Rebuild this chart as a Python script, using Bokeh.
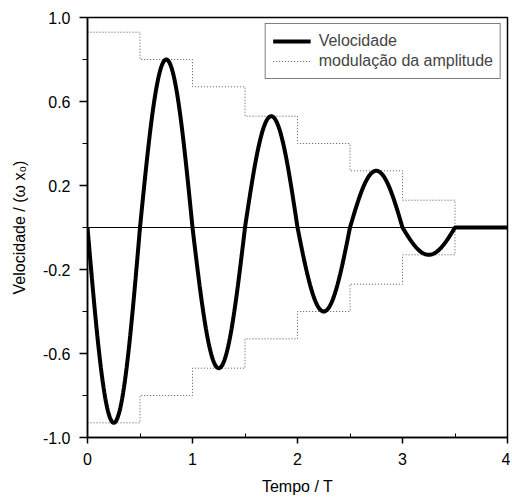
import numpy as np
from bokeh.plotting import figure
from bokeh.models import FixedTicker, PrintfTickFormatter, Legend, LegendItem, Range1d, Span
from bokeh.embed import file_html
from bokeh.resources import INLINE

# Data
half_period_edges = [0.0, 0.5, 1.0, 1.5, 2.0, 2.5, 3.0, 3.5]
amplitudes = [0.93, 0.80, 0.67, 0.53, 0.40, 0.27, 0.13]
t_end = 4.0
x_ticks = [0, 1, 2, 3, 4]
x_minor = [0.5, 1.5, 2.5, 3.5]
y_ticks = [-1.0, -0.6, -0.2, 0.2, 0.6, 1.0]
y_minor = [-0.8, -0.4, 0.0, 0.4, 0.8]

# velocity curve: sinusoidal arcs with amplitude stepping each half period
tv, vv = [], []
for i, a in enumerate(amplitudes):
    t = np.linspace(half_period_edges[i], half_period_edges[i + 1], 60)
    tv.extend(t.tolist())
    vv.extend((-a * np.sin(2 * np.pi * t)).tolist())
tv.extend([half_period_edges[-1], t_end])
vv.extend([0.0, 0.0])

# amplitude envelope steps
sx, sy = [], []
for i, a in enumerate(amplitudes):
    sx += [half_period_edges[i], half_period_edges[i + 1]]
    sy += [a, a]
sx.append(half_period_edges[-1])
sy.append(0.0)
sy_low = [-v for v in sy]

FONT = "Liberation Sans"

p = figure(frame_width=420, frame_height=420, output_backend="svg", toolbar_location=None,
           x_range=Range1d(0, 4), y_range=Range1d(-1.0, 1.0),
           min_border_left=87, min_border_top=17, min_border_right=3, min_border_bottom=40)
p.grid.visible = False
p.outline_line_color = "black"
p.outline_line_width = 1.5
p.background_fill_color = "white"
p.border_fill_color = "white"

zero = Span(location=0, dimension="width", line_color="black", line_width=1)
p.add_layout(zero)

r_up = p.line(sx, sy, line_color="#555555", line_width=1, line_dash="1 2")
r_lo = p.line(sx, sy_low, line_color="#555555", line_width=1, line_dash="1 2")
r_v = p.line(tv, vv, line_color="black", line_width=4)

for ax, ticks, minor in ((p.xaxis[0], x_ticks, x_minor), (p.yaxis[0], y_ticks, y_minor)):
    ax.ticker = FixedTicker(ticks=ticks, minor_ticks=minor)
    ax.axis_line_color = "black"
    ax.axis_line_width = 1.5
    ax.major_tick_line_color = "black"
    ax.minor_tick_line_color = "black"
    ax.major_tick_line_width = 1.5
    ax.major_tick_in = 0
    ax.major_label_text_font = FONT
    ax.major_label_text_font_size = "16px"
    ax.major_label_text_color = "black"
    ax.axis_label_text_font = FONT
    ax.axis_label_text_font_size = "16px"
    ax.axis_label_text_font_style = "normal"
    ax.axis_label_text_color = "black"

xa, ya = p.xaxis[0], p.yaxis[0]
xa.major_tick_out = 6
xa.minor_tick_out = 0
xa.minor_tick_in = 4
ya.major_tick_out = 8
ya.minor_tick_out = 5
ya.minor_tick_in = 0

ya.formatter = PrintfTickFormatter(format="%.1f")
xa.formatter = PrintfTickFormatter(format="%d")
xa.axis_label = "Tempo / T"
ya.axis_label = "Velocidade / (ω x₀)"
xa.major_label_standoff = 9
ya.major_label_standoff = 9
xa.axis_label_standoff = 10
ya.axis_label_standoff = 12

legend = Legend(items=[LegendItem(label="Velocidade", renderers=[r_v]),
                       LegendItem(label="modulação da amplitude", renderers=[r_up])],
                location="top_right")
legend.margin = 6
legend.padding = 7
legend.spacing = 0
legend.label_height = 20
legend.glyph_height = 20
legend.glyph_width = 38
legend.label_standoff = 8
legend.label_text_font = FONT
legend.label_text_font_size = "16px"
legend.border_line_color = "black"
legend.border_line_width = 1
legend.background_fill_alpha = 1
p.add_layout(legend)

open("out.html", "w").write(file_html(p, INLINE))
